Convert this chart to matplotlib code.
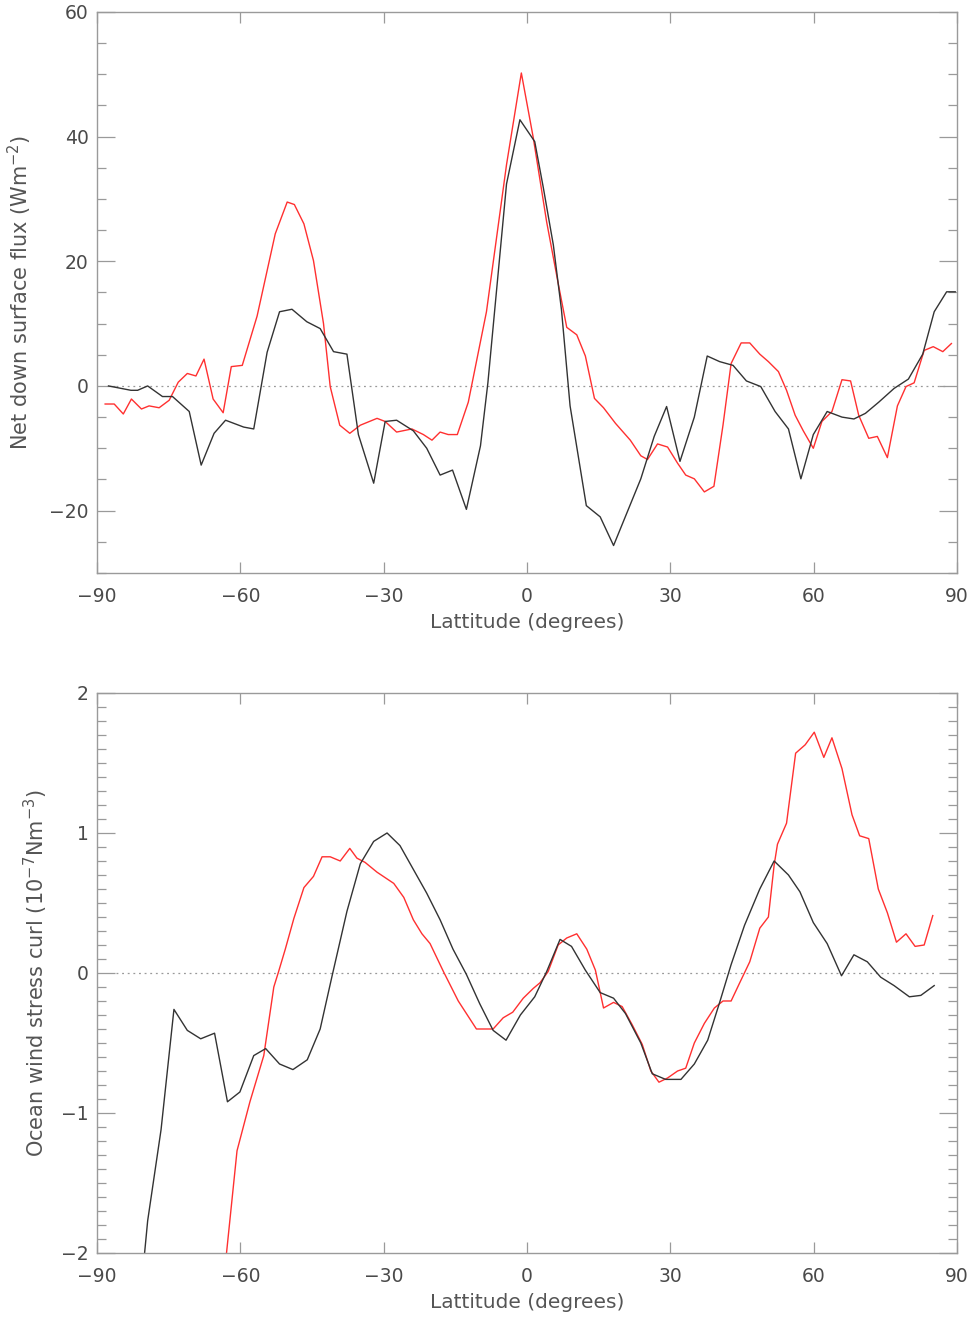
import numpy as np
import matplotlib.pyplot as plt
from matplotlib.ticker import MultipleLocator

# top panel: net down surface flux (W m-2)
flux_black_lat = [-87.6, -82.9, -81.5, -79.4, -76.3, -74.2, -70.7, -68.2, -65.5, -63.1,
                  -59.3, -57.2, -54.4, -51.8, -49.2, -46.1, -43.3, -40.5, -37.7, -35.3,
                  -32.1, -29.7, -27.3, -23.8, -21.0, -18.2, -15.6, -12.7, -9.75, -8.2,
                  -4.3, -1.5, 1.6, 3.4, 5.5, 7.2, 9.0, 12.4, 15.3, 18.1,
                  23.8, 26.6, 29.2, 32.0, 35.0, 37.7, 40.3, 43.1, 45.9, 48.9,
                  51.9, 54.7, 57.3, 59.9, 62.8, 65.9, 68.4, 70.8, 73.6, 76.8,
                  79.8, 82.8, 85.2, 87.8, 89.6]
flux_black = [0.0, -0.7, -0.7, 0.0, -1.7, -1.7, -4.1, -12.7, -7.6, -5.5,
              -6.6, -6.9, 5.4, 11.9, 12.3, 10.3, 9.2, 5.5, 5.1, -7.8,
              -15.6, -5.7, -5.5, -7.2, -10.0, -14.3, -13.5, -19.8, -9.6, 0.5,
              32.4, 42.7, 39.2, 31.8, 22.6, 12.2, -3.2, -19.2, -21.0, -25.6,
              -14.9, -8.1, -3.3, -12.1, -5.0, 4.8, 3.9, 3.3, 0.8, -0.1,
              -4.1, -6.9, -14.9, -7.8, -4.1, -5.0, -5.3, -4.4, -2.6, -0.4,
              1.1, 5.1, 11.9, 15.1, 15.1]

flux_red_lat = [-88.3, -86.4, -84.5, -82.8, -80.7, -79.1, -77.0, -74.9, -73.0, -71.1,
                -69.3, -67.6, -65.7, -63.6, -61.9, -59.6, -56.5, -52.7, -50.2, -48.7,
                -46.7, -44.7, -42.6, -41.2, -39.2, -37.1, -34.9, -31.4, -29.7, -27.3,
                -24.1, -21.7, -19.9, -18.2, -16.5, -14.6, -12.3, -8.5, -4.3, -1.2,
                1.3, 4.1, 6.5, 8.3, 10.4, 12.2, 14.1, 16.0, 18.5, 21.6,
                23.8, 25.2, 27.3, 29.4, 31.5, 33.2, 35.0, 37.1, 39.1, 41.0,
                42.7, 44.8, 46.6, 48.7, 50.5, 52.6, 54.3, 56.1, 57.8, 59.9,
                61.7, 63.8, 65.9, 67.7, 69.4, 71.5, 73.3, 75.4, 77.5, 79.3,
                81.0, 83.1, 85.0, 87.0, 88.8]
flux_red = [-2.9, -2.9, -4.5, -2.1, -3.7, -3.2, -3.5, -2.3, 0.6, 2.0,
            1.6, 4.3, -2.1, -4.3, 3.1, 3.3, 11.2, 24.4, 29.5, 29.1,
            26.0, 20.1, 10.0, -0.1, -6.3, -7.6, -6.3, -5.2, -5.7, -7.4,
            -6.9, -7.8, -8.7, -7.4, -7.8, -7.8, -2.6, 11.9, 35.5, 50.2,
            39.8, 26.3, 16.5, 9.4, 8.2, 4.8, -2.0, -3.5, -6.0, -8.7,
            -11.2, -11.8, -9.3, -9.8, -12.4, -14.3, -14.9, -17.0, -16.1, -6.3,
            3.6, 6.9, 6.9, 5.1, 3.9, 2.3, -0.7, -4.7, -7.2, -10.0,
            -5.7, -4.1, 1.0, 0.8, -4.7, -8.4, -8.1, -11.5, -3.2, -0.1,
            0.5, 5.7, 6.3, 5.5, 6.8]

# bottom panel: ocean wind stress curl (1e-7 N m-3)
curl_black_lat = [-80.6, -79.4, -76.6, -73.9, -71.1, -68.3, -65.4, -62.7, -60.1, -57.2,
                  -54.7, -51.8, -49.0, -46.0, -43.3, -40.8, -37.7, -34.9, -32.1, -29.3,
                  -26.6, -23.8, -21.0, -18.2, -15.5, -12.7, -9.9, -7.1, -4.4, -1.4,
                  1.6, 4.1, 6.9, 9.3, 12.2, 15.3, 18.1, 20.6, 23.8, 26.2,
                  29.0, 32.2, 35.0, 37.8, 40.3, 42.7, 45.5, 48.7, 51.7, 54.7,
                  57.1, 59.9, 62.8, 65.8, 68.4, 71.2, 74.0, 76.8, 80.0, 82.4,
                  85.2]
curl_black = [-2.2, -1.77, -1.12, -0.26, -0.41, -0.47, -0.43, -0.92, -0.85, -0.59,
              -0.54, -0.65, -0.69, -0.62, -0.40, -0.02, 0.44, 0.78, 0.94, 1.00,
              0.91, 0.74, 0.57, 0.38, 0.17, -0.01, -0.22, -0.41, -0.48, -0.30,
              -0.17, 0.01, 0.24, 0.19, 0.02, -0.14, -0.18, -0.29, -0.50, -0.72,
              -0.76, -0.76, -0.65, -0.48, -0.21, 0.06, 0.34, 0.60, 0.80, 0.70,
              0.58, 0.36, 0.21, -0.02, 0.13, 0.08, -0.03, -0.09, -0.17, -0.16,
              -0.09]

curl_red_lat = [-63.5, -60.7, -58.0, -55.1, -53.0, -52.0, -50.6, -48.8, -46.7, -44.7,
                -42.9, -41.2, -39.1, -37.1, -35.6, -33.9, -31.4, -27.9, -25.8, -23.8,
                -22.0, -20.3, -17.5, -14.4, -10.6, -7.1, -5.0, -3.0, -0.8, 1.3,
                2.7, 4.4, 6.5, 8.3, 10.4, 12.5, 14.3, 16.0, 18.1, 19.9,
                22.0, 24.1, 25.9, 27.6, 29.4, 31.5, 33.2, 35.0, 37.1, 39.2,
                41.0, 42.7, 44.5, 46.6, 48.7, 50.5, 51.7, 52.4, 54.3, 56.2,
                58.2, 60.1, 62.1, 63.8, 65.9, 68.0, 69.6, 71.5, 73.5, 75.4,
                77.3, 79.3, 81.2, 83.1, 84.9]
curl_red = [-2.2, -1.27, -0.92, -0.59, -0.10, 0.01, 0.17, 0.39, 0.61, 0.69,
            0.83, 0.83, 0.80, 0.89, 0.82, 0.79, 0.72, 0.64, 0.54, 0.38,
            0.28, 0.21, 0.01, -0.20, -0.40, -0.40, -0.32, -0.28, -0.18, -0.11,
            -0.07, 0.01, 0.20, 0.25, 0.28, 0.17, 0.02, -0.25, -0.21, -0.24,
            -0.37, -0.51, -0.70, -0.78, -0.75, -0.70, -0.68, -0.50, -0.36, -0.25,
            -0.20, -0.20, -0.07, 0.08, 0.32, 0.40, 0.77, 0.92, 1.07, 1.57,
            1.63, 1.72, 1.54, 1.68, 1.46, 1.13, 0.98, 0.96, 0.60, 0.43,
            0.22, 0.28, 0.19, 0.20, 0.41]

xticks = [-90, -60, -30, 0, 30, 60, 90]
axis_grey = '#9a9a9a'
text_grey = '#4a4a4a'

fig = plt.figure(figsize=(9.73, 13.22), dpi=100)
ax1 = fig.add_axes([0.0997, 0.5666, 0.884, 0.4244])
ax2 = fig.add_axes([0.0997, 0.0522, 0.884, 0.4236])


def style_axis(ax, ymajor, yminor, ylabel, labelx, ylabel_size):
    ax.set_xlim(-90, 90)
    ax.set_xticks(xticks)
    ax.yaxis.set_major_locator(MultipleLocator(ymajor))
    ax.yaxis.set_minor_locator(MultipleLocator(yminor))
    ax.tick_params(which='both', direction='in', top=True, right=True,
                   colors=axis_grey, labelcolor=text_grey, labelsize=13.5)
    ax.tick_params(axis='x', which='major', length=8, width=0.9, pad=10)
    ax.tick_params(axis='y', which='major', length=13, width=0.9, pad=6)
    ax.tick_params(axis='y', which='minor', length=6.5, width=0.9)
    for s in ax.spines.values():
        s.set_color(axis_grey)
        s.set_linewidth(1.0)
    ax.set_xlabel('Lattitude (degrees)', fontsize=14.5, color='#555555', labelpad=5)
    ax.set_ylabel(ylabel, fontsize=ylabel_size, color='#555555')
    ax.yaxis.set_label_coords(labelx, 0.5)


# top panel
ax1.plot([-86, 88], [0, 0], color='#999999', lw=0.9, ls=(0, (1.5, 3)))
ax1.plot(flux_red_lat, flux_red, color='#ff3030', lw=1.0)
ax1.plot(flux_black_lat, flux_black, color='#333333', lw=1.0)
ax1.set_ylim(-30, 60)
style_axis(ax1, 20, 5, 'Net down surface flux (Wm$^{-2}$)', -0.073, 15)

# bottom panel
ax2.plot([-86, 85.5], [0, 0], color='#999999', lw=0.9, ls=(0, (1.5, 3)))
ax2.plot(curl_red_lat, curl_red, color='#ff3030', lw=1.0)
ax2.plot(curl_black_lat, curl_black, color='#333333', lw=1.0)
ax2.set_ylim(-2, 2)
style_axis(ax2, 1, 0.1, 'Ocean wind stress curl (10$^{-7}$Nm$^{-3}$)', -0.055, 15)

plt.savefig('out.png', dpi=100)
